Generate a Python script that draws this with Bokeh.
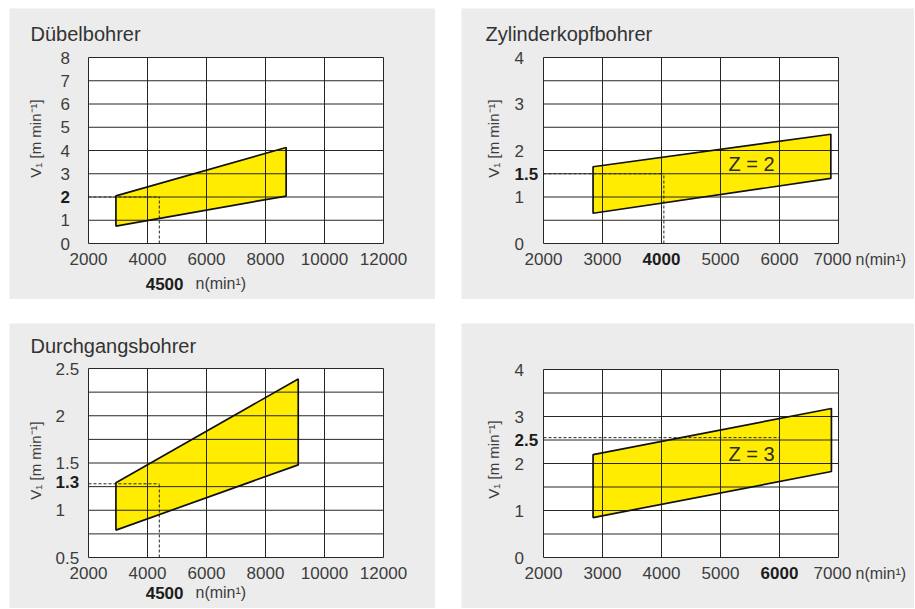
from math import pi
from bokeh.plotting import figure
from bokeh.models import Range1d, Spacer
from bokeh.core.properties import value
from bokeh.layouts import row, column
from bokeh.embed import file_html
from bokeh.resources import INLINE

FONT = "Liberation Sans"
TXT = "#3c3c3c"
BOLDC = "#1c1c1c"
GRAY = "#ececec"
YELLOW = "#ffec00"
LINE = "#262626"
TICK = "17px"

# ---------------- data ----------------
# Dübelbohrer
dub_title = "Dübelbohrer"
dub_n = [2930, 2930, 8700, 8700]
dub_v = [0.75, 2.05, 4.13, 2.04]
dub_xgrid = [2000, 4000, 6000, 8000, 10000, 12000]
dub_ygrid = [0, 1, 2, 3, 4, 5, 6, 7, 8]
dub_xlabels = ["2000", "4000", "6000", "8000", "10000", "12000"]
dub_yvals = [0, 1, 3, 4, 5, 6, 7, 8]
dub_ylabels = ["0", "1", "3", "4", "5", "6", "7", "8"]
dub_ybold = (2, "2")
dub_ref = (4400, 2.0)
dub_footer = "4500"

# Zylinderkopfbohrer
zyl_title = "Zylinderkopfbohrer"
zyl_n = [2840, 2840, 6870, 6870]
zyl_v = [0.65, 1.65, 2.35, 1.40]
zyl_xgrid = [2000, 3000, 4000, 5000, 6000, 7000]
zyl_ygrid = [0, 0.5, 1, 1.5, 2, 2.5, 3, 3.5, 4]
zyl_xvals = [2000, 3000, 5000, 6000, 7000]
zyl_xlabels = ["2000", "3000", "5000", "6000", "7000"]
zyl_xbold = (4000, "4000")
zyl_yvals = [0, 1, 2, 3, 4]
zyl_ylabels = ["0", "1", "2", "3", "4"]
zyl_ybold = (1.5, "1.5")
zyl_ref = (4040, 1.5)
zyl_zone = ("Z = 2", 5525, 1.70)

# Durchgangsbohrer
dur_title = "Durchgangsbohrer"
dur_n = [2930, 2930, 9110, 9110]
dur_v = [0.79, 1.29, 2.39, 1.48]
dur_xgrid = [2000, 4000, 6000, 8000, 10000, 12000]
dur_ygrid = [0.5, 0.75, 1, 1.25, 1.5, 1.75, 2, 2.25, 2.5]
dur_xlabels = ["2000", "4000", "6000", "8000", "10000", "12000"]
dur_yvals = [0.5, 1, 1.5, 2, 2.5]
dur_ylabels = ["0.5", "1", "1.5", "2", "2.5"]
dur_ybold = (1.3, "1.3")
dur_ref = (4400, 1.28)
dur_footer = "4500"

# Zylinderkopfbohrer Z = 3
z3_n = [2840, 2840, 6880, 6880]
z3_v = [0.85, 2.19, 3.17, 1.83]
z3_xgrid = [2000, 3000, 4000, 5000, 6000, 7000]
z3_ygrid = [0, 0.5, 1, 1.5, 2, 2.5, 3, 3.5, 4]
z3_xvals = [2000, 3000, 4000, 5000, 7000]
z3_xlabels = ["2000", "3000", "4000", "5000", "7000"]
z3_xbold = (6000, "6000")
z3_yvals = [0, 1, 2, 3, 4]
z3_ylabels = ["0", "1", "2", "3", "4"]
z3_ybold = (2.5, "2.5")
z3_ref = (6000, 2.55)
z3_zone = ("Z = 3", 5525, 2.21)

YLABEL = "V\u2081 [m min\u207b\u00b9]"
XUNIT = "n(min\u00b9)"


class Panel:
    """A gray panel whose chart area sits at fixed pixel insets."""

    def __init__(self, W, H, fl, fr, ft, fb, xr, yr, xgrid, ygrid):
        self.xr, self.yr = xr, yr
        self.ux = (xr[1] - xr[0]) / (fr - fl)
        self.uy = (yr[1] - yr[0]) / (fb - ft)
        xs = xr[0] - fl * self.ux
        xe = xr[1] + (W - fr) * self.ux
        ye = yr[1] + ft * self.uy
        ys = yr[0] - (H - fb) * self.uy
        p = figure(width=W, height=H, x_range=Range1d(xs, xe),
                   y_range=Range1d(ys, ye), x_axis_type=None, y_axis_type=None,
                   toolbar_location=None, output_backend="svg", title=None,
                   min_border=0)
        p.outline_line_color = None
        p.background_fill_color = GRAY
        p.border_fill_color = GRAY
        x0, x1 = xr
        y0, y1 = yr
        # white chart area
        p.quad(left=[x0], right=[x1], bottom=[y0], top=[y1],
               fill_color="white", line_color=None)
        self.p = p
        self.xgrid, self.ygrid = xgrid, ygrid

    def grid(self):
        p = self.p
        x0, x1 = self.xr
        y0, y1 = self.yr
        xg, yg = self.xgrid, self.ygrid
        p.segment(x0=xg, y0=[y0] * len(xg), x1=xg, y1=[y1] * len(xg),
                  line_color=LINE, line_width=1)
        p.segment(x0=[x0] * len(yg), y0=yg, x1=[x1] * len(yg), y1=yg,
                  line_color=LINE, line_width=1)

    def region(self, n, v, ref):
        p = self.p
        x0 = self.xr[0]
        y0 = self.yr[0]
        p.patch(n, v, fill_color=YELLOW, line_color=None)
        self.grid()
        rn, rv = ref
        p.line([x0, rn], [rv, rv], line_color=LINE, line_width=1, line_dash="3 2")
        p.line([rn, rn], [y0, rv], line_color=LINE, line_width=1, line_dash="3 2")
        p.patch(n, v, fill_color=None, line_color="#111111", line_width=1.7)

    def text(self, x, y, s, dx=0, dy=0, size="16px", bold=False, align="center",
             angle=0.0, color=TXT):
        # dx, dy: pixel offsets (dy positive = up)
        self.p.text(x=[x + dx * self.ux], y=[y + dy * self.uy], text=[s],
                    text_font=value(FONT), text_font_size=size,
                    text_font_style="bold" if bold else "normal",
                    text_color=BOLDC if bold else color, text_align=align,
                    text_baseline="middle", angle=angle)

    def ticks(self, xvals, xlabels, yvals, ylabels, ydx, xbold=None, ybold=None,
              last_shift=0):
        x0, x1 = self.xr
        y0, y1 = self.yr
        for v, s in zip(xvals, xlabels):
            dx = last_shift if v == x1 else 0
            self.text(v, y0, s, dx=dx, dy=-15.5, size=TICK)
        if xbold:
            self.text(xbold[0], y0, xbold[1], dy=-15.5, bold=True, size=TICK)
        for v, s in zip(yvals, ylabels):
            self.text(x0, v, s, dx=ydx, align="left", size=TICK)
        if ybold:
            self.text(x0, ybold[0], ybold[1], dx=ydx, align="left", bold=True, size=TICK)


# ---- panel 1: Dübelbohrer ----
a = Panel(426, 291, 79, 374, 49, 235, (2000, 12000), (0, 8), dub_xgrid, dub_ygrid)
a.region(dub_n, dub_v, dub_ref)
a.ticks(dub_xgrid, dub_xlabels, dub_yvals, dub_ylabels, -28, ybold=dub_ybold)
a.text(a.xr[0], a.yr[1], dub_title, dx=-58, dy=24, size="20px", align="left", color="#333333")
a.text(a.xr[0], a.yr[1], YLABEL, dx=-53, dy=-81, size="15px", angle=pi / 2)
a.text(a.xr[0], a.yr[0], dub_footer, dx=95, dy=-40, bold=True, align="right", size=TICK)
a.text(a.xr[0], a.yr[0], XUNIT, dx=107, dy=-40, align="left")

# ---- panel 2: Zylinderkopfbohrer Z=2 ----
b = Panel(453, 291, 82, 377, 49, 235, (2000, 7000), (0, 4), zyl_xgrid, zyl_ygrid)
b.region(zyl_n, zyl_v, zyl_ref)
b.ticks(zyl_xvals, zyl_xlabels, zyl_yvals, zyl_ylabels, -29,
        xbold=zyl_xbold, ybold=zyl_ybold, last_shift=-6)
b.text(b.xr[0], b.yr[1], zyl_title, dx=-58, dy=24, size="20px", align="left", color="#333333")
b.text(b.xr[0], b.yr[1], YLABEL, dx=-50, dy=-81, size="15px", angle=pi / 2)
b.text(b.xr[1], b.yr[0], XUNIT, dx=17, dy=-15.5, align="left")
b.text(zyl_zone[1], zyl_zone[2], zyl_zone[0], size="20px", color="#2a2a2a")

# ---- panel 3: Durchgangsbohrer ----
c = Panel(426, 285, 79, 374, 45, 234, (2000, 12000), (0.5, 2.5), dur_xgrid, dur_ygrid)
c.region(dur_n, dur_v, dur_ref)
c.ticks(dur_xgrid, dur_xlabels, dur_yvals, dur_ylabels, -33, ybold=dur_ybold)
c.text(c.xr[0], c.yr[1], dur_title, dx=-58, dy=23, size="20px", align="left", color="#333333")
c.text(c.xr[0], c.yr[1], YLABEL, dx=-53, dy=-92, size="15px", angle=pi / 2)
c.text(c.xr[0], c.yr[0], dur_footer, dx=95, dy=-35, bold=True, align="right", size=TICK)
c.text(c.xr[0], c.yr[0], XUNIT, dx=107, dy=-35, align="left")

# ---- panel 4: Zylinderkopfbohrer Z=3 ----
d = Panel(453, 285, 82, 377, 46, 234, (2000, 7000), (0, 4), z3_xgrid, z3_ygrid)
d.region(z3_n, z3_v, z3_ref)
d.ticks(z3_xvals, z3_xlabels, z3_yvals, z3_ylabels, -29,
        xbold=z3_xbold, ybold=z3_ybold, last_shift=-6)
d.text(d.xr[0], d.yr[1], YLABEL, dx=-50, dy=-90, size="15px", angle=pi / 2)
d.text(d.xr[1], d.yr[0], XUNIT, dx=17, dy=-15.5, align="left")
d.text(z3_zone[1], z3_zone[2], z3_zone[0], size="20px", color="#2a2a2a")

layout = column(
    Spacer(width=10, height=8),
    row(Spacer(width=9, height=291), a.p, Spacer(width=26, height=291), b.p),
    Spacer(width=10, height=24),
    row(Spacer(width=9, height=285), c.p, Spacer(width=26, height=285), d.p),
)

open("out.html", "w").write(file_html(layout, INLINE))
